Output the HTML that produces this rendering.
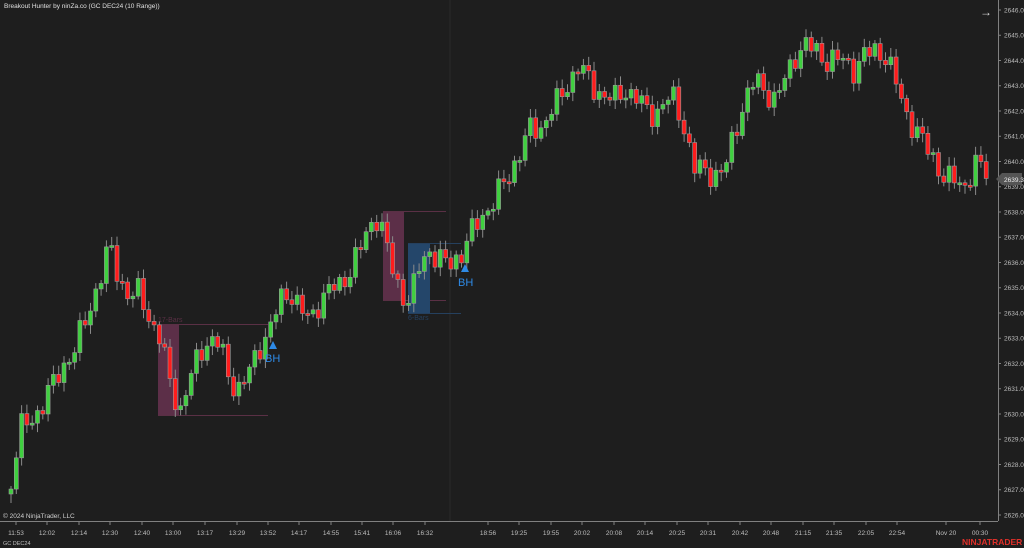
<!DOCTYPE html>
<html><head><meta charset="utf-8">
<style>
html,body{margin:0;padding:0;background:#1e1e1e;}
svg{display:block;font-family:"Liberation Sans",sans-serif;}
</style></head>
<body>
<svg id="c" width="1024" height="548" viewBox="0 0 1024 548" xmlns="http://www.w3.org/2000/svg">
<rect width="1024" height="548" fill="#1e1e1e"/>
<line x1="450" y1="0" x2="450" y2="521" stroke="#2a2a2a" stroke-width="1"/>
<g>
<rect x="158" y="324" width="21" height="91" fill="#5c2f48"/>
<line x1="158" y1="324.5" x2="268" y2="324.5" stroke="#5a3045"/>
<line x1="158" y1="415.5" x2="268" y2="415.5" stroke="#5a3045"/>
<text x="158" y="322" font-size="7" fill="#5a3045">17-Bars</text>
<rect x="383" y="211" width="21" height="89" fill="#5c2f48"/>
<line x1="383" y1="211.5" x2="446" y2="211.5" stroke="#5a3045"/>
<line x1="383" y1="300.5" x2="446" y2="300.5" stroke="#5a3045"/>
<rect x="408" y="243" width="22" height="70" fill="#24466a"/>
<line x1="408" y1="243.5" x2="461" y2="243.5" stroke="#25405e"/>
<line x1="408" y1="313.5" x2="461" y2="313.5" stroke="#25405e"/>
<text x="408" y="320" font-size="7" fill="#25405e">6-Bars</text>
</g>
<g id="candles"></g>
<polygon points="273,341 269,349 277,349" fill="#2e8ae6"/>
<text x="265" y="362" font-size="11" fill="#2e8ae6">BH</text>
<polygon points="465,264 461,272 469,272" fill="#2e8ae6"/>
<text x="458" y="286" font-size="11" fill="#2e8ae6">BH</text>
<line x1="998.5" y1="0" x2="998.5" y2="521" stroke="#808080"/>
<line x1="0" y1="521.5" x2="998" y2="521.5" stroke="#808080"/>
<g id="yax" font-size="6.5" fill="#bdbdbd"></g>
<g id="xax" font-size="6.5" fill="#bdbdbd"></g>
<polygon points="996,179 1002,173 1022,173 1022,185 1002,185" fill="#555"/>
<text x="1004" y="182" font-size="6.5" fill="#eee">2639.3</text>
<text x="4" y="8" font-size="6.5" fill="#e0e0e0">Breakout Hunter by ninZa.co (GC DEC24 (10 Range))</text>
<text x="980" y="16" font-size="12" fill="#ddd">→</text>
<text x="3" y="518" font-size="6.5" fill="#cfcfcf">© 2024 NinjaTrader, LLC</text>
<text x="3" y="545" font-size="5.5" fill="#bdbdbd">GC DEC24</text>
<text x="962" y="545" font-size="8.5" font-weight="bold" fill="#e0302a">NINJATRADER</text>
</svg>
<script>
(function(){
var NS="http://www.w3.org/2000/svg";
function el(t,a,p){var e=document.createElementNS(NS,t);for(var k in a)e.setAttribute(k,a[k]);p.appendChild(e);return e;}
var pts=[[10,490],[20,430],[40,410],[60,370],[75,350],[85,320],[100,280],[110,245],[120,280],[130,300],[140,290],[150,320],[160,340],[170,380],[180,412],[190,380],[200,350],[210,340],[220,345],[230,380],[240,390],[250,370],[260,345],[270,330],[280,300],[290,290],[300,310],[310,320],[320,300],[330,290],[340,285],[350,270],[360,250],[370,225],[378,215],[385,240],[395,280],[405,298],[410,300],[420,265],[430,250],[440,260],[450,265],[460,255],[470,235],[480,220],[490,205],[500,190],[510,175],[520,150],[530,130],[540,130],[550,110],[560,100],[570,80],[578,65],[585,75],[595,90],[605,95],[615,100],[625,90],[635,95],[645,110],[655,115],[665,100],[675,100],[685,130],[695,170],[705,170],[715,175],[725,170],[735,130],[745,100],[755,80],[765,90],[775,100],[785,80],[795,55],[805,45],[815,50],[825,60],[835,60],[845,60],[855,70],[865,55],[875,50],[885,55],[895,80],[905,110],[915,130],[925,145],[935,160],[945,180],[955,180],[965,185],[975,165],[985,170],[992,180]];
function path(x){for(var j=1;j<pts.length;j++){if(x<=pts[j][0]){var a=pts[j-1],b=pts[j];return a[1]+(b[1]-a[1])*(x-a[0])/(b[0]-a[0]);}}return pts[pts.length-1][1];}
var g=document.getElementById('candles');
var prev=path(11)+10;
for(var i=0;;i++){var x=11+i*5.3;if(x>991)break;
 var c=path(x)+9*Math.sin(i*2.3)+6*Math.sin(i*5.1+1);
 var o=prev;var bt=Math.min(o,c),bb=Math.max(o,c);if(bb-bt<2){bb=bt+2;}
 var hi=bt-3-6*Math.abs(Math.sin(i*3.7)),lo=bb+3+6*Math.abs(Math.cos(i*1.9));
 el('line',{x1:x,y1:hi,x2:x,y2:lo,stroke:'#8a8a8a','stroke-width':1},g);
 el('rect',{x:x-2,y:bt,width:4,height:bb-bt,fill:(c<o)?'#3fd03f':'#ff1c1c',stroke:'#9a9a9a','stroke-width':0.6},g);
 prev=c;}
var ya=document.getElementById('yax');
for(var p=2646;p>=2626;p--){var y=10+(2646-p)*25.25;
 el('line',{x1:998,y1:y,x2:1001,y2:y,stroke:'#808080'},ya);
 var t=el('text',{x:1004,y:y+2.3},ya);t.textContent=p+'.0';}
var xa=document.getElementById('xax');
var lab=[[16,'11:53'],[47,'12:02'],[79,'12:14'],[110,'12:30'],[142,'12:40'],[173,'13:00'],[205,'13:17'],[237,'13:29'],[268,'13:52'],[299,'14:17'],[331,'14:55'],[362,'15:41'],[393,'16:06'],[425,'16:32'],[488,'18:56'],[519,'19:25'],[551,'19:55'],[582,'20:02'],[614,'20:08'],[645,'20:14'],[677,'20:25'],[708,'20:31'],[740,'20:42'],[771,'20:48'],[803,'21:15'],[834,'21:35'],[866,'22:05'],[897,'22:54'],[946,'Nov 20'],[980,'00:30']];
lab.forEach(function(l){el('line',{x1:l[0],y1:522,x2:l[0],y2:525,stroke:'#808080'},xa);
 var t=el('text',{x:l[0],y:535,'text-anchor':'middle'},xa);t.textContent=l[1];});
})();
</script>
</body></html>
